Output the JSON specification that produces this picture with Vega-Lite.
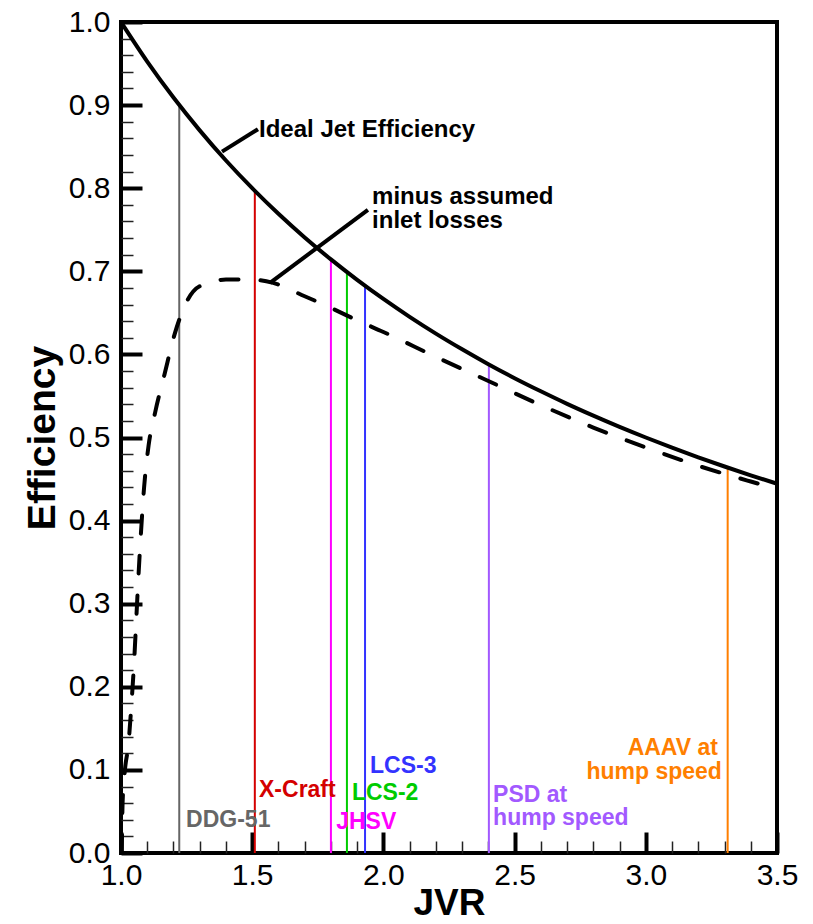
{
  "$schema": "https://vega.github.io/schema/vega-lite/v6.json",
  "width": 656,
  "height": 831,
  "autosize": "none",
  "padding": {"left": 121, "top": 22, "right": 36, "bottom": 71},
  "background": "white",
  "config": {
    "view": {"stroke": "black", "strokeWidth": 4},
    "font": "Liberation Sans",
    "axis": {"grid": false, "domain": false, "labelFont": "Liberation Sans", "titleFont": "Liberation Sans"}
  },
  "datasets": {
    "ideal": [
      {"jvr": 1.0, "eff": 1.0}, {"jvr": 1.1, "eff": 0.9524}, {"jvr": 1.2, "eff": 0.9091},
      {"jvr": 1.3, "eff": 0.8696}, {"jvr": 1.4, "eff": 0.8333}, {"jvr": 1.5, "eff": 0.8},
      {"jvr": 1.6, "eff": 0.7692}, {"jvr": 1.7, "eff": 0.7407}, {"jvr": 1.8, "eff": 0.7143},
      {"jvr": 1.9, "eff": 0.6897}, {"jvr": 2.0, "eff": 0.6667}, {"jvr": 2.1, "eff": 0.6452},
      {"jvr": 2.2, "eff": 0.625}, {"jvr": 2.3, "eff": 0.6061}, {"jvr": 2.4, "eff": 0.5882},
      {"jvr": 2.5, "eff": 0.5714}, {"jvr": 2.6, "eff": 0.5556}, {"jvr": 2.7, "eff": 0.5405},
      {"jvr": 2.8, "eff": 0.5263}, {"jvr": 2.9, "eff": 0.5128}, {"jvr": 3.0, "eff": 0.5},
      {"jvr": 3.1, "eff": 0.4878}, {"jvr": 3.2, "eff": 0.4762}, {"jvr": 3.3, "eff": 0.4651},
      {"jvr": 3.4, "eff": 0.4545}, {"jvr": 3.5, "eff": 0.4444}
    ],
    "losses": [
      {"jvr": 1.003, "eff": 0.0}, {"jvr": 1.006, "eff": 0.06}, {"jvr": 1.015, "eff": 0.10},
      {"jvr": 1.028, "eff": 0.13}, {"jvr": 1.04, "eff": 0.18}, {"jvr": 1.05, "eff": 0.23},
      {"jvr": 1.058, "eff": 0.28}, {"jvr": 1.066, "eff": 0.33}, {"jvr": 1.076, "eff": 0.385},
      {"jvr": 1.088, "eff": 0.44}, {"jvr": 1.105, "eff": 0.49}, {"jvr": 1.13, "eff": 0.53},
      {"jvr": 1.165, "eff": 0.575}, {"jvr": 1.205, "eff": 0.625}, {"jvr": 1.245, "eff": 0.66},
      {"jvr": 1.30, "eff": 0.682}, {"jvr": 1.40, "eff": 0.69}, {"jvr": 1.50, "eff": 0.69},
      {"jvr": 1.58, "eff": 0.686}, {"jvr": 1.70, "eff": 0.670}, {"jvr": 1.80, "eff": 0.656},
      {"jvr": 1.90, "eff": 0.641}, {"jvr": 2.00, "eff": 0.627}, {"jvr": 2.20, "eff": 0.597},
      {"jvr": 2.40, "eff": 0.568}, {"jvr": 2.60, "eff": 0.539}, {"jvr": 2.80, "eff": 0.512},
      {"jvr": 3.00, "eff": 0.488}, {"jvr": 3.20, "eff": 0.466}, {"jvr": 3.40, "eff": 0.447},
      {"jvr": 3.50, "eff": 0.438}
    ],
    "ships": [
      {"ship": "DDG-51", "jvr": 1.222, "eff": 0.900},
      {"ship": "X-Craft", "jvr": 1.51, "eff": 0.797},
      {"ship": "JHSV", "jvr": 1.80, "eff": 0.714},
      {"ship": "LCS-2", "jvr": 1.861, "eff": 0.699},
      {"ship": "LCS-3", "jvr": 1.93, "eff": 0.683},
      {"ship": "PSD", "jvr": 2.402, "eff": 0.588},
      {"ship": "AAAV", "jvr": 3.312, "eff": 0.464}
    ],
    "shipLabels": [
      {"ship": "DDG-51", "jvr": 1.248, "eff": 0.040, "text": "DDG-51"},
      {"ship": "X-Craft", "jvr": 1.526, "eff": 0.076, "text": "X-Craft"},
      {"ship": "JHSV", "jvr": 1.82, "eff": 0.037, "text": "JHSV"},
      {"ship": "LCS-2", "jvr": 1.88, "eff": 0.072, "text": "LCS-2"},
      {"ship": "LCS-3", "jvr": 1.949, "eff": 0.105, "text": "LCS-3"},
      {"ship": "PSD", "jvr": 2.418, "eff": 0.070, "text": "PSD at"},
      {"ship": "PSD", "jvr": 2.418, "eff": 0.042, "text": "hump speed"}
    ],
    "shipLabelsRight": [
      {"ship": "AAAV", "jvr": 3.275, "eff": 0.126, "text": "AAAV at"},
      {"ship": "AAAV", "jvr": 3.29, "eff": 0.097, "text": "hump speed"}
    ],
    "leaders": [
      {"jvr": 1.385, "eff": 0.844, "jvr2": 1.522, "eff2": 0.871},
      {"jvr": 1.568, "eff": 0.686, "jvr2": 1.941, "eff2": 0.774}
    ],
    "notes": [
      {"jvr": 1.526, "eff": 0.870, "text": "Ideal Jet Efficiency"},
      {"jvr": 1.957, "eff": 0.790, "text": "minus assumed"},
      {"jvr": 1.957, "eff": 0.760, "text": "inlet losses"}
    ]
  },
  "layer": [
    {
      "data": {"name": "ships"},
      "mark": {"type": "rule", "strokeWidth": 2},
      "encoding": {
        "x": {"field": "jvr", "type": "quantitative", "scale": {"domain": [1, 3.5], "nice": false, "zero": false},
          "axis": {"orient": "bottom", "values": [1.1, 1.2, 1.3, 1.4, 1.6, 1.7, 1.8, 1.9, 2.1, 2.2, 2.3, 2.4, 2.6, 2.7, 2.8, 2.9, 3.1, 3.2, 3.3, 3.4], "labels": false, "title": null, "tickSize": -12, "tickWidth": 1.5, "tickColor": "#222"}},
        "y": {"field": "eff", "type": "quantitative", "scale": {"domain": [0, 1], "nice": false},
          "axis": {"orient": "left", "values": [0.02, 0.04, 0.06, 0.08, 0.12, 0.14, 0.16, 0.18, 0.22, 0.24, 0.26, 0.28, 0.32, 0.34, 0.36, 0.38, 0.42, 0.44, 0.46, 0.48, 0.52, 0.54, 0.56, 0.58, 0.62, 0.64, 0.66, 0.68, 0.72, 0.74, 0.76, 0.78, 0.82, 0.84, 0.86, 0.88, 0.92, 0.94, 0.96, 0.98], "labels": false, "title": null, "tickSize": -12, "tickWidth": 1.5, "tickColor": "#222"}},
        "y2": {"datum": 0},
        "color": {"field": "ship", "type": "nominal", "legend": null,
          "scale": {"domain": ["DDG-51", "X-Craft", "JHSV", "LCS-2", "LCS-3", "PSD", "AAAV"],
                    "range": ["#666666", "#d40000", "#ff00ff", "#00cc00", "#3333ff", "#a259ff", "#ff7f00"]}}
      }
    },
    {
      "data": {"name": "ideal"},
      "mark": {"type": "line", "color": "black", "strokeWidth": 4, "interpolate": "monotone", "clip": true},
      "encoding": {
        "x": {"field": "jvr", "type": "quantitative",
          "axis": {"orient": "bottom", "values": [1, 1.5, 2, 2.5, 3, 3.5], "format": ".1f", "tickSize": -21, "tickWidth": 4, "tickColor": "black",
            "labelFontSize": 30, "labelColor": "black", "labelPadding": 28, "labelFlush": false, "labelOverlap": false,
            "title": "JVR", "titleFontSize": 37, "titleFontWeight": "bold", "titleColor": "black", "titlePadding": -5}},
        "y": {"field": "eff", "type": "quantitative",
          "axis": {"orient": "left", "values": [0, 0.1, 0.2, 0.3, 0.4, 0.5, 0.6, 0.7, 0.8, 0.9, 1.0], "format": ".1f", "tickSize": -21, "tickWidth": 4, "tickColor": "black",
            "labelFontSize": 30, "labelColor": "black", "labelPadding": 32, "labelFlush": false, "labelOverlap": false,
            "title": "Efficiency", "titleFontSize": 39, "titleFontWeight": "bold", "titleColor": "black", "titlePadding": 6}}
      }
    },
    {
      "data": {"name": "losses"},
      "mark": {"type": "line", "color": "black", "strokeWidth": 4, "strokeDash": [18, 22], "strokeCap": "round", "interpolate": "monotone", "clip": true},
      "encoding": {
        "x": {"field": "jvr", "type": "quantitative", "axis": null},
        "y": {"field": "eff", "type": "quantitative", "axis": null}
      }
    },
    {
      "data": {"name": "leaders"},
      "mark": {"type": "rule", "color": "black", "strokeWidth": 4},
      "encoding": {
        "x": {"field": "jvr", "type": "quantitative", "axis": null},
        "y": {"field": "eff", "type": "quantitative", "axis": null},
        "x2": {"field": "jvr2"},
        "y2": {"field": "eff2"}
      }
    },
    {
      "data": {"name": "notes"},
      "mark": {"type": "text", "align": "left", "baseline": "middle", "fontSize": 24, "fontWeight": "bold", "color": "black", "font": "Liberation Sans"},
      "encoding": {
        "x": {"field": "jvr", "type": "quantitative", "axis": null},
        "y": {"field": "eff", "type": "quantitative", "axis": null},
        "text": {"field": "text"}
      }
    },
    {
      "data": {"name": "shipLabels"},
      "mark": {"type": "text", "align": "left", "baseline": "middle", "fontSize": 23, "fontWeight": "bold", "font": "Liberation Sans"},
      "encoding": {
        "x": {"field": "jvr", "type": "quantitative", "axis": null},
        "y": {"field": "eff", "type": "quantitative", "axis": null},
        "text": {"field": "text"},
        "color": {"field": "ship", "type": "nominal", "legend": null}
      }
    },
    {
      "data": {"name": "shipLabelsRight"},
      "mark": {"type": "text", "align": "right", "baseline": "middle", "fontSize": 23, "fontWeight": "bold", "font": "Liberation Sans"},
      "encoding": {
        "x": {"field": "jvr", "type": "quantitative", "axis": null},
        "y": {"field": "eff", "type": "quantitative", "axis": null},
        "text": {"field": "text"},
        "color": {"field": "ship", "type": "nominal", "legend": null}
      }
    }
  ],
  "resolve": {"axis": {"x": "independent", "y": "independent"}}
}
